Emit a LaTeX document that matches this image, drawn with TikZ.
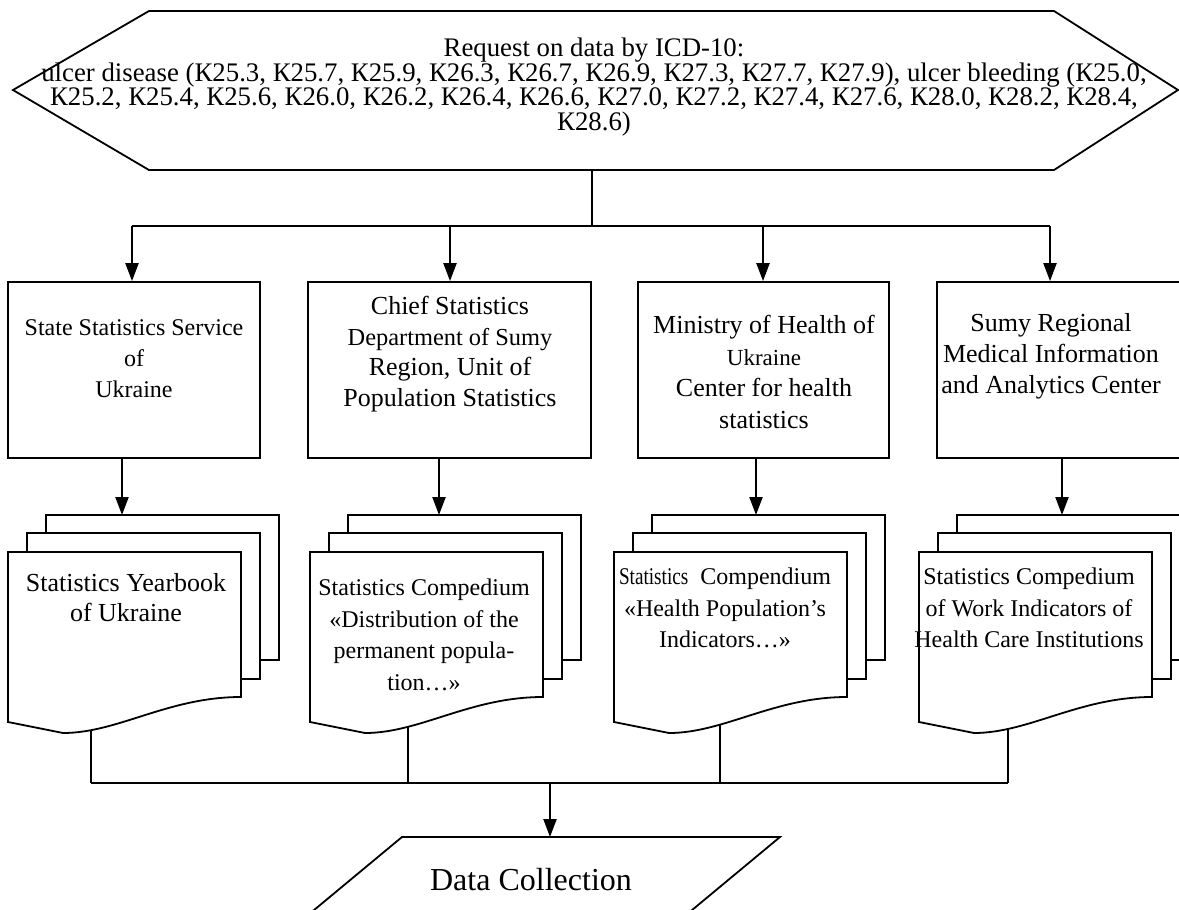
\documentclass[tikz,border=0pt]{standalone}
\usepackage{fontspec}
\setmainfont{Liberation Serif}
\usepackage{graphicx}
\usetikzlibrary{arrows.meta}
\tikzset{
	box/.style={draw, line width=1.8pt, minimum height=176pt, inner sep=0pt},
	txt/.style={align=center, inner sep=0pt, font=\fontsize{26}{31}\selectfont},
	doctxt/.style={align=center, inner sep=0pt, font=\fontsize{24}{31.5}\selectfont},
	arr/.style={line width=2.2pt, -{Triangle[length=18pt,width=13pt]}},
	bus/.style={line width=1.8pt},
	feed/.style={line width=1.3pt},
	page/.style={draw, line width=1.8pt, fill=white},
}
% three stacked pages, #1 = left edge of front page
\def\docpages#1{
	\draw[page] ({#1+38},515) rectangle ({#1+271},660);
	\draw[page] ({#1+19},533) rectangle ({#1+252},679);
	\draw[page] (#1,552) -- ({#1+233},552) -- ({#1+233},697)
		.. controls ({#1+160},697) and ({#1+110},733) .. ({#1+55},733) -- (#1,722) -- cycle;
}

\begin{document}
\begin{tikzpicture}[x=1pt, y=-1pt]
			%%%%% START %%%%%
			\useasboundingbox (0,0) rectangle (1179,910);
			\clip (0,0) rectangle (1179,910);
			
			\draw[line width=1.8pt] (13,90) -- (149,11) -- (1054,11) -- (1178,90) -- (1054,170) -- (149,170) -- cycle;
			\node[align=center, inner sep=0pt, font=\fontsize{26.8}{24.5}\selectfont] (req) at (594,87) {Request on data by ICD-10:\\
				ulcer disease (К25.3, К25.7, К25.9, К26.3, К26.7, К26.9, К27.3, К27.7, К27.9), ulcer bleeding (К25.0,\\
				К25.2, К25.4, К25.6, К26.0, К26.2, К26.4, К26.6, К27.0, К27.2, К27.4, К27.6, К28.0, К28.2, К28.4,\\
				К28.6)};
			
			\coordinate (reqb) at (592,170);
			\coordinate (fork) at (592,226);
			\coordinate (s1) at (132,226);
			\coordinate (s2) at (450,226);
			\coordinate (s3) at (763,226);
			\coordinate (s4) at (1050,226);
			\draw[bus] (reqb) -- (fork);
			\draw[bus] (s1) -- (s4);
			
			\node[box, minimum width=252pt] (b1) at (134,370) {};
			\node[box, minimum width=283pt] (b2) at (449.5,370) {};
			\node[box, minimum width=251pt] (b3) at (763.5,370) {};
			\node[box, minimum width=253pt] (b4) at (1063.5,370) {};
			
			\node[txt, font=\fontsize{24}{31}\selectfont] (t1) at (134,359) {State Statistics Service\\of\\Ukraine};
			\node[txt, font=\fontsize{26}{30.5}\selectfont] (t2) at (450,354) {Chief Statistics\\{\fontsize{24.4}{30.5}\selectfont Department of Sumy}\\Region, Unit of\\Population Statistics};
			\node[txt, font=\fontsize{26}{31.7}\selectfont] (t3) at (764,372) {Ministry of Health of\\{\fontsize{23}{31.7}\selectfont Ukraine}\\Center for health\\statistics};
			\node[txt] (t4) at (1051,356) {Sumy Regional\\Medical Information\\and Analytics Center};
			
			\foreach \i in {1,...,4}
				\draw[arr] (s\i) -- (s\i |- b\i.north);
			
			\coordinate (d1) at (122,515);
			\coordinate (d2) at (439,515);
			\coordinate (d3) at (756,515);
			\coordinate (d4) at (1062,515);
			\foreach \i in {1,...,4}
				\draw[arr] (d\i |- b\i.south) -- (d\i);
			
			% feeds into the collecting line
			\coordinate (w1) at (91,783);
			\coordinate (w2) at (408,783);
			\coordinate (w3) at (720,783);
			\coordinate (w4) at (1008,783);
			\foreach \i in {1,...,4}
				\draw[feed] (w\i) -- ++(0,-90);
			\draw[bus] (w1) -- (w4);
			
			\docpages{8}
			\docpages{310}
			\docpages{614}
			\docpages{919}
			
			\node[txt, font=\fontsize{26}{30}\selectfont] (p1) at (126,598) {Statistics Yearbook\\of Ukraine};
			\node[doctxt] (p2) at (424,635) {Statistics Compedium\\«Distribution of the\\permanent popula-\\tion…»};
			\node[doctxt] (p3) at (725,608) {\scalebox{0.8}[1]{Statistics}\ \ Compendium\\«Health Population’s\\Indicators…»};
			\node[doctxt] (p4) at (1029,608) {Statistics Compedium\\of Work Indicators of\\Health Care Institutions};
			
			\coordinate (join) at (550,783);
			\coordinate (dtop) at (550,837);
			\draw[arr] (join) -- (dtop);
			\draw[line width=1.8pt] (290,930) -- (402,837) -- (780,837) -- (668,930);
			\node[inner sep=0pt, font=\fontsize{32}{36}\selectfont] (data) at (531,880) {Data Collection};
			%%%%% END %%%%%
\end{tikzpicture}
\end{document}
